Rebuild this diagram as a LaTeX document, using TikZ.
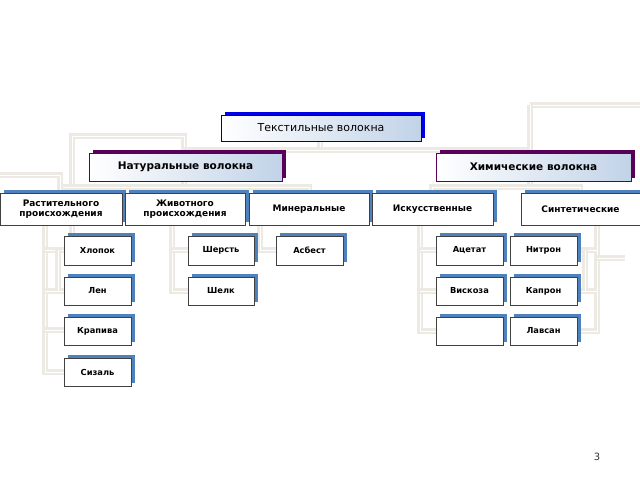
\documentclass[tikz,border=0pt]{standalone}
\usepackage{fontspec}
\setmainfont{DejaVu Sans}
\definecolor{sb}{RGB}{79,129,189}
\definecolor{ln}{RGB}{236,234,226}
\begin{document}
\begin{tikzpicture}[x=1pt,y=-1pt,
 conn/.style={draw=ln,line width=2.4pt,double=white,double distance=0.6pt},
 bx/.style={draw=black!75,line width=0.8pt,fill=white,font=\bfseries\fontsize{9}{10.5}\selectfont,align=center},
 sm/.style={bx,font=\bfseries\fontsize{8.3}{10}\selectfont},
 hd/.style={bx,left color=white,right color=sb!35,font=\bfseries\fontsize{10.5}{12}\selectfont},
 ]
\useasboundingbox (0,0) rectangle (640,480);
\newcommand{\bxx}[8]{% name x1 y1 x2 y2 shadowcolor style text
 \fill[#6] (#2+4,#3-3) rectangle (#4+4,#5-3);
 \node[#7,minimum width=#4-#2,minimum height=#5-#3,inner sep=0pt] (#1) at ({(#2+#4)/2},{(#3+#5)/2}) {#8};}
% connectors
\begin{scope}
\draw[conn] (72,258)--(72,136)--(184,136)--(184,167);
\draw[conn] (320,141)--(320,150)--(184,150);
\draw[conn] (320,150)--(530,150)--(530,167);
\draw[conn] (530,105)--(640,105);
\draw[conn] (530,105)--(530,150);
\draw[conn] (184,181)--(184,187)--(61,187)--(61,193);
\draw[conn] (184,187)--(309,187)--(309,193);
\draw[conn] (0,175)--(60,175)--(60,193);
\draw[conn] (530,181)--(530,187)--(432,187)--(432,193);
\draw[conn] (530,187)--(580,187)--(580,193);
\draw[conn] (45,225)--(45,372)--(64,372);
\draw[conn] (45,330)--(64,330);
\draw[conn] (45,291)--(64,291);
\draw[conn] (45,250)--(64,250);
\draw[conn] (58,250)--(58,291);
\draw[conn] (172,225)--(172,291)--(188,291);
\draw[conn] (172,250)--(188,250);
\draw[conn] (260,225)--(260,250)--(276,250);
\draw[conn] (420,225)--(420,331)--(436,331);
\draw[conn] (420,291)--(436,291);
\draw[conn] (420,250)--(436,250);
\draw[conn] (597,225)--(597,331)--(577,331);
\draw[conn] (597,291)--(577,291);
\draw[conn] (597,250)--(577,250);
\draw[conn] (585,250)--(585,291);
\draw[conn] (597,258)--(625,258);
\end{scope}
% boxes
\bxx{root}{221}{115}{421}{141}{blue!90!black}{hd,draw=blue!50!black,font=\fontsize{11}{13}\selectfont}{Текстильные волокна}
\bxx{nat}{89}{153}{282}{181}{violet!70!black}{hd,draw=violet!70!black}{Натуральные волокна}
\bxx{chem}{436}{153}{631}{181}{violet!70!black}{hd,draw=violet!70!black}{Химические волокна}
\bxx{rast}{0}{193}{122}{225}{sb}{bx}{Растительного\\происхождения}
\bxx{zhiv}{125}{193}{245}{225}{sb}{bx}{Животного\\происхождения}
\bxx{min}{249}{193}{369}{225}{sb}{bx}{Минеральные}
\bxx{isk}{372}{193}{493}{225}{sb}{bx}{Искусственные}
\bxx{sin}{521}{193}{640}{225}{sb}{bx}{Синтетические}
\bxx{hlop}{64}{236}{131}{265}{sb}{sm}{Хлопок}
\bxx{sher}{188}{236}{254}{265}{sb}{sm}{Шерсть}
\bxx{asb}{276}{236}{343}{265}{sb}{sm}{Асбест}
\bxx{acet}{436}{236}{503}{265}{sb}{sm}{Ацетат}
\bxx{nitr}{510}{236}{577}{265}{sb}{sm}{Нитрон}
\bxx{len}{64}{277}{131}{305}{sb}{sm}{Лен}
\bxx{shel}{188}{277}{254}{305}{sb}{sm}{Шелк}
\bxx{visk}{436}{277}{503}{305}{sb}{sm}{Вискоза}
\bxx{kapr}{510}{277}{577}{305}{sb}{sm}{Капрон}
\bxx{krap}{64}{317}{131}{345}{sb}{sm}{Крапива}
\bxx{empt}{436}{317}{503}{345}{sb}{sm}{}
\bxx{lavs}{510}{317}{577}{345}{sb}{sm}{Лавсан}
\bxx{siz}{64}{358}{131}{386}{sb}{sm}{Сизаль}
\node[font=\fontsize{10}{12}\selectfont,text=black!80] (pg) at (597,457) {3};
\end{tikzpicture}
\end{document}
